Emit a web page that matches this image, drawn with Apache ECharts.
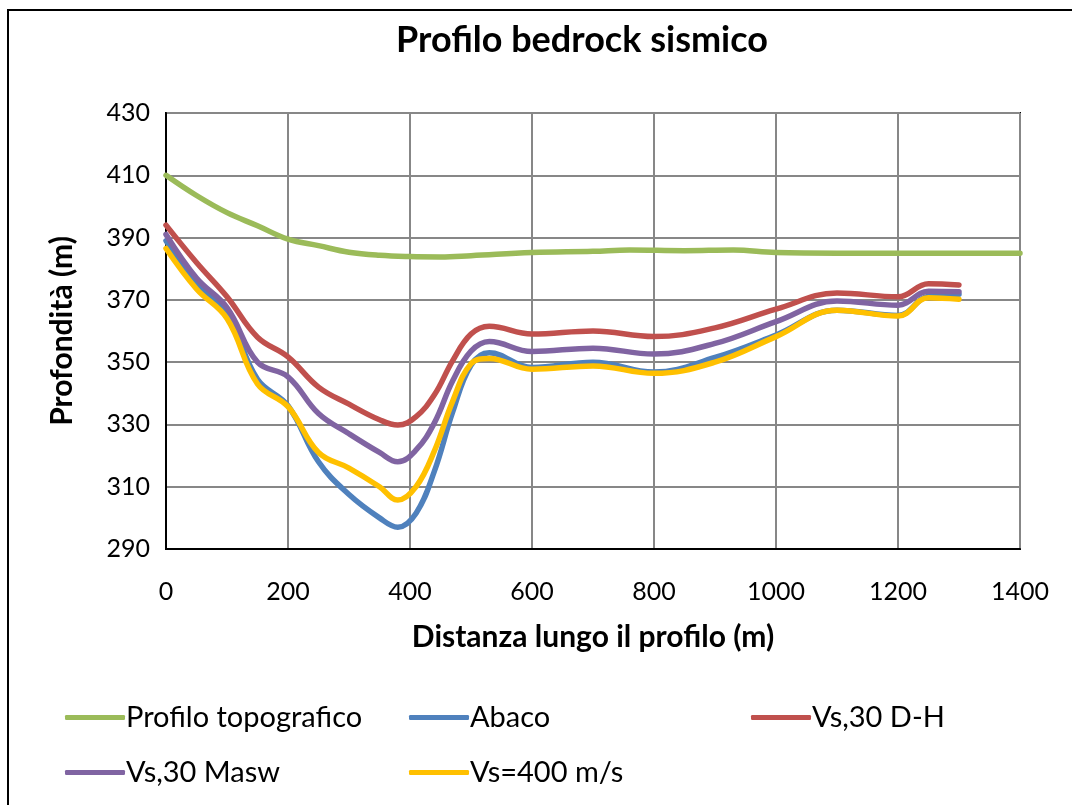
<!DOCTYPE html>
<html>
<head>
<meta charset="utf-8">
<script src="https://cdn.jsdelivr.net/npm/echarts@6/dist/echarts.min.js"></script>
<style>
  html, body { margin: 0; padding: 0; background: #fff; }
  #chart { width: 1072px; height: 805px; }
</style>
</head>
<body>
<div id="chart"></div>
<script>
// Distances along the profile (m)
const topoX = [0, 50, 100, 150, 200, 250, 300, 350, 400, 450, 500, 600, 700, 760, 850, 930, 1000, 1100, 1200, 1300, 1400];
const topoY = [410, 403.5, 398, 393.8, 389.5, 387.4, 385.3, 384.3, 383.9, 383.8, 384.2, 385.2, 385.6, 386, 385.8, 386, 385.2, 385, 385, 385, 385];

const bedX = [0, 50, 100, 150, 200, 250, 300, 350, 380, 410, 440, 470, 500, 530, 600, 700, 800, 900, 1000, 1100, 1200, 1250, 1300];
const abaco = [389, 375.5, 365.6, 344.5, 336, 318, 307.5, 300, 297, 301.5, 315, 334, 349, 353, 348.3, 350, 346.8, 351.5, 358.7, 366.7, 365, 371.2, 371.8];
const vsDH = [394, 382, 371, 358, 351.7, 342, 336.5, 331.5, 329.8, 332.5, 339.5, 350.5, 359, 361.5, 359, 360, 358.2, 361, 367, 372.2, 371, 375.2, 374.8];
const vsMasw = [391, 377, 367.5, 350, 345.3, 333.5, 327, 321, 318, 321.8, 330.5, 344, 353.5, 356.6, 353.4, 354.5, 352.6, 356, 363, 369.6, 368.3, 372.8, 372.6];
const vs400 = [386.5, 373.5, 364, 343, 335.7, 321, 316, 310, 305.7, 310, 321.5, 337.5, 349.5, 351.2, 347.7, 348.8, 346.4, 350, 358.2, 366.7, 364.8, 370.7, 370.2];

const xTicks = [0, 200, 400, 600, 800, 1000, 1200, 1400];
const yTicks = [290, 310, 330, 350, 370, 390, 410, 430];

const names = ['Profilo topografico', 'Abaco', 'Vs,30 D-H', 'Vs,30 Masw', 'Vs=400 m/s'];
const colors = ['#9BBB59', '#4F81BD', '#C0504D', '#8064A2', '#FFC000'];

const zip = (xs, ys) => xs.map((x, i) => [x, ys[i]]);
const seriesData = [zip(topoX, topoY), zip(bedX, abaco), zip(bedX, vsDH), zip(bedX, vsMasw), zip(bedX, vs400)];

const FONT = 'Lato, "Open Sans", sans-serif';

const chart = echarts.init(document.getElementById('chart'), null, { renderer: 'canvas' });

// One legend block per entry, laid out in two rows
const legendPos = [
  { left: 60, top: 698 },
  { left: 404, top: 698 },
  { left: 746, top: 698 },
  { left: 60, top: 753 },
  { left: 404, top: 753 }
];

const legends = names.map((n, i) => ({
  data: [n],
  left: legendPos[i].left,
  top: legendPos[i].top,
  icon: 'roundRect',
  itemWidth: 60,
  itemHeight: 5,
  itemGap: 0,
  textStyle: { fontFamily: FONT, fontSize: 29, color: '#000', padding: [0, 0, 0, -4] }
}));

const plain = v => String(v);

chart.setOption({
  animation: false,
  backgroundColor: '#fff',
  title: {
    text: 'Profilo bedrock sismico',
    left: 577,
    top: 17,
    textAlign: 'center',
    textStyle: { fontFamily: FONT, fontSize: 36, fontWeight: 'bold', color: '#000' }
  },
  graphic: [{
    type: 'rect',
    shape: { x: 8, y: 10, width: 1200, height: 900 },
    style: { fill: 'none', stroke: '#000', lineWidth: 2 },
    silent: true,
    z: -1
  }],
  legend: legends,
  grid: {
    left: 166, top: 113, right: 52, bottom: 256,
    show: true, borderColor: '#000', borderWidth: 2, backgroundColor: 'transparent'
  },
  xAxis: {
    type: 'value',
    min: xTicks[0], max: xTicks[xTicks.length - 1], interval: 200,
    name: 'Distanza lungo il profilo (m)',
    nameLocation: 'middle',
    nameGap: 73,
    nameTextStyle: { fontFamily: FONT, fontSize: 30, fontWeight: 'bold', color: '#000' },
    axisLine: { show: true, lineStyle: { color: '#000', width: 2 } },
    axisTick: { show: false },
    axisLabel: { fontFamily: FONT, fontSize: 25, color: '#000', margin: 30, formatter: plain },
    splitLine: { show: true, lineStyle: { color: '#878787', width: 2 } }
  },
  yAxis: {
    type: 'value',
    min: yTicks[0], max: yTicks[yTicks.length - 1], interval: 20,
    name: 'Profondità (m)',
    nameLocation: 'middle',
    nameGap: 89,
    nameRotate: 90,
    nameTextStyle: { fontFamily: FONT, fontSize: 30, fontWeight: 'bold', color: '#000' },
    axisLine: { show: true, lineStyle: { color: '#000', width: 2 } },
    axisTick: { show: false },
    axisLabel: { fontFamily: FONT, fontSize: 25, color: '#000', margin: 16, formatter: plain },
    splitLine: { show: true, lineStyle: { color: '#878787', width: 2 } }
  },
  series: names.map((n, i) => ({
    name: n,
    type: 'line',
    data: seriesData[i],
    smooth: 0.4,
    symbol: 'none',
    color: colors[i],
    lineStyle: { width: 5.5, color: colors[i], cap: 'round', join: 'round' },
    z: 2 + i
  }))
});
</script>
</body>
</html>
